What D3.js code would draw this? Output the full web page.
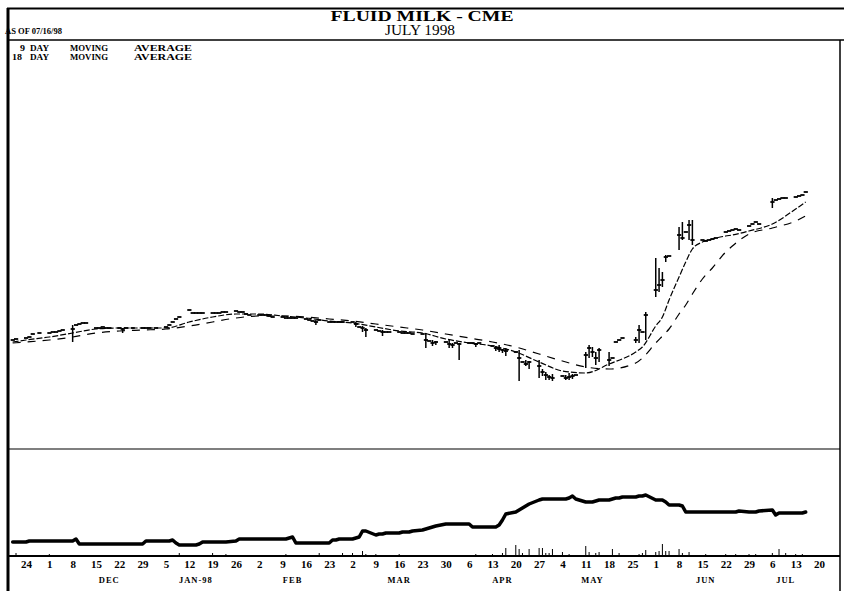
<!DOCTYPE html>
<html>
<head>
<meta charset="utf-8">
<script src="https://cdn.jsdelivr.net/npm/d3@7"></script>
<style>
  body { margin: 0; background: #fff; }
  svg { display: block; }
</style>
</head>
<body>
<svg id="canvas" width="844" height="591"></svg>
<script>
// trading weeks (Monday) - each row of the daily arrays is Mon..Fri, null = no trade
const weekStarts = [
  "1997-11-17", "1997-11-24", "1997-12-01", "1997-12-08", "1997-12-15", "1997-12-22", "1997-12-29",
  "1998-01-05", "1998-01-12", "1998-01-19", "1998-01-26", "1998-02-02", "1998-02-09", "1998-02-16",
  "1998-02-23", "1998-03-02", "1998-03-09", "1998-03-16", "1998-03-23", "1998-03-30", "1998-04-06",
  "1998-04-13", "1998-04-20", "1998-04-27", "1998-05-04", "1998-05-11", "1998-05-18", "1998-05-25",
  "1998-06-01", "1998-06-08", "1998-06-15", "1998-06-22", "1998-06-29", "1998-07-06", "1998-07-13",
];

// daily settle, $/cwt
const closes = [
  [null, null, null, 10.18, 10.20],
  [10.22, 10.24, 10.30, null, 10.32],
  [10.32, 10.34, 10.34, 10.36, 10.38],
  [10.40, 10.48, 10.50, 10.52, 10.52],
  [10.42, 10.42, 10.44, 10.42, 10.42],
  [10.42, 10.40, 10.42, null, 10.42],
  [10.42, 10.42, 10.42, null, 10.42],
  [10.44, 10.48, 10.54, 10.60, 10.64],
  [10.78, 10.72, 10.72, 10.72, 10.72],
  [10.72, 10.72, 10.72, 10.74, 10.74],
  [10.76, 10.74, 10.74, 10.70, 10.68],
  [10.68, 10.68, 10.68, 10.66, 10.64],
  [10.64, 10.62, 10.62, 10.62, 10.62],
  [10.60, 10.58, 10.56, 10.54, 10.58],
  [10.54, 10.54, 10.54, 10.54, 10.54],
  [10.54, 10.50, 10.44, 10.42, 10.38],
  [10.38, 10.36, 10.34, 10.34, 10.34],
  [10.34, 10.32, 10.32, 10.32, 10.30],
  [10.30, 10.18, 10.16, 10.12, 10.14],
  [10.14, 10.10, 10.08, 10.12, 10.10],
  [10.12, 10.12, 10.10, 10.12, null],
  [10.06, 10.02, 10.00, 9.98, 9.96],
  [9.94, 9.82, 9.74, 9.70, 9.74],
  [9.66, 9.54, 9.48, 9.44, 9.42],
  [9.46, 9.42, 9.44, 9.46, 9.48],
  [9.88, 10.02, 9.94, 9.82, 9.98],
  [9.78, 9.82, 10.14, 10.18, 10.22],
  [null, 10.18, 10.38, 10.34, 10.68],
  [11.18, 11.28, 11.38, 11.84, 11.86],
  [12.28, 12.22, 12.34, 12.48, 12.18],
  [12.18, 12.16, 12.18, 12.20, 12.22],
  [12.34, 12.36, 12.38, 12.40, 12.38],
  [12.46, 12.50, 12.54, 12.50, null],
  [12.94, 12.98, 13.00, 13.02, 13.02],
  [13.04, 13.06, 13.08, 13.14, null],
];

// days that traded a range: [date, high, low]
const ranges = [
  ["1997-12-08", 10.48, 10.14], ["1997-12-23", 10.42, 10.32], ["1998-02-19", 10.58, 10.48],
  ["1998-03-03", 10.54, 10.44], ["1998-03-05", 10.46, 10.34], ["1998-03-06", 10.42, 10.24],
  ["1998-03-11", 10.38, 10.26], ["1998-03-24", 10.32, 10.02], ["1998-03-26", 10.18, 10.06],
  ["1998-03-27", 10.16, 10.08], ["1998-03-31", 10.18, 10.02], ["1998-04-01", 10.12, 10.02],
  ["1998-04-03", 10.12, 9.78], ["1998-04-08", 10.12, 10.04], ["1998-04-14", 10.06, 9.96],
  ["1998-04-15", 10.08, 9.94], ["1998-04-16", 10.00, 9.92], ["1998-04-17", 10.02, 9.86],
  ["1998-04-21", 9.98, 9.36], ["1998-04-23", 9.78, 9.66], ["1998-04-24", 9.76, 9.60],
  ["1998-04-27", 9.78, 9.42], ["1998-04-28", 9.60, 9.46], ["1998-04-29", 9.54, 9.38],
  ["1998-04-30", 9.48, 9.38], ["1998-05-01", 9.50, 9.36], ["1998-05-05", 9.48, 9.38],
  ["1998-05-06", 9.52, 9.38], ["1998-05-07", 9.50, 9.40],
  ["1998-05-11", 9.94, 9.62], ["1998-05-12", 10.08, 9.82], ["1998-05-13", 10.04, 9.84],
  ["1998-05-14", 9.94, 9.68], ["1998-05-15", 10.02, 9.74], ["1998-05-18", 9.94, 9.66],
  ["1998-05-26", 10.24, 10.12], ["1998-05-27", 10.48, 10.12], ["1998-05-29", 10.74, 10.18],
  ["1998-06-01", 11.82, 11.04], ["1998-06-02", 11.62, 11.14], ["1998-06-03", 11.54, 11.24],
  ["1998-06-04", 11.88, 11.74], ["1998-06-08", 12.44, 11.98], ["1998-06-09", 12.54, 12.18],
  ["1998-06-11", 12.58, 12.18], ["1998-06-12", 12.58, 12.08], ["1998-07-06", 13.02, 12.82],
];

// moving averages
const maDates = [
  "1997-11-20", "1997-11-24", "1997-12-01", "1997-12-08", "1997-12-15", "1997-12-22", "1997-12-29",
  "1998-01-05", "1998-01-12", "1998-01-19", "1998-01-26", "1998-02-02", "1998-02-09", "1998-02-16",
  "1998-02-23", "1998-03-02", "1998-03-09", "1998-03-16", "1998-03-23", "1998-03-30", "1998-04-06",
  "1998-04-13", "1998-04-20", "1998-04-27", "1998-05-04", "1998-05-11", "1998-05-18", "1998-05-26",
  "1998-05-28", "1998-06-01", "1998-06-03", "1998-06-05", "1998-06-08", "1998-06-10", "1998-06-12",
  "1998-06-15", "1998-06-18", "1998-06-22", "1998-06-24", "1998-06-29", "1998-07-06", "1998-07-13",
  "1998-07-16",
];
const ma9 = [
  10.14, 10.18, 10.24, 10.32, 10.40, 10.42, 10.42, 10.42, 10.54, 10.64, 10.70, 10.70, 10.66, 10.62,
  10.56, 10.52, 10.44, 10.36, 10.32, 10.20, 10.12, 10.06, 9.94, 9.74, 9.56, 9.52, 9.70, 9.94,
  10.04, 10.46, 10.64, 10.98, 11.44, 11.74, 12.00, 12.14, 12.20, 12.26, 12.28, 12.36, 12.50, 12.80,
  12.94,
];
const ma18 = [
  10.12, 10.14, 10.18, 10.24, 10.32, 10.36, 10.38, 10.40, 10.46, 10.54, 10.62, 10.66, 10.66, 10.64,
  10.60, 10.56, 10.50, 10.44, 10.38, 10.30, 10.22, 10.14, 10.04, 9.90, 9.76, 9.64, 9.60, 9.72,
  9.82, 10.12, 10.26, 10.40, 10.70, 10.88, 11.10, 11.40, 11.62, 11.94, 12.06, 12.30, 12.42, 12.56,
  12.66,
];

// open interest, contracts
const openInterest = [
  [null, null, null, 140, 140],
  [140, 150, 150, null, 150],
  [150, 150, 150, 150, 150],
  [150, 170, 120, 120, 120],
  [120, 120, 120, 120, 120],
  [120, 120, 120, null, 120],
  [120, 150, 150, null, 150],
  [150, 150, 160, 130, 110],
  [110, 110, 110, 120, 140],
  [140, 140, 140, 140, 140],
  [150, 170, 170, 170, 170],
  [170, 170, 170, 170, 170],
  [170, 170, 180, 190, 130],
  [130, 130, 130, 130, 130],
  [130, 160, 160, 170, 170],
  [170, 180, 190, 250, 250],
  [210, 220, 220, 230, 230],
  [230, 240, 240, 240, 250],
  [260, 270, 280, 290, 300],
  [320, 320, 320, 320, 320],
  [320, 290, 290, 290, null],
  [290, 290, 310, 360, 420],
  [440, 460, 480, 500, 520],
  [560, 570, 570, 570, 570],
  [570, 570, 580, 600, 570],
  [540, 540, 540, 550, 560],
  [560, 570, 580, 580, 590],
  [null, 590, 600, 600, 610],
  [560, 560, 560, 540, 510],
  [510, 500, 440, 440, 440],
  [440, 440, 440, 440, 440],
  [440, 440, 440, 440, 450],
  [440, 440, 440, 450, null],
  [460, 410, 430, 430, 430],
  [430, 430, 430, 440, null],
];

// volume, contracts
const volume = [
  [null, null, null, 10, 30],
  [10, 10, 10, null, 10],
  [20, 10, 10, 10, 10],
  [10, 10, 10, 10, 10],
  [10, 10, 10, 10, 10],
  [10, 10, 0, null, 0],
  [0, 10, 0, null, 10],
  [10, 10, 10, 10, 30],
  [10, 10, 10, 10, 10],
  [30, 10, 10, 10, 20],
  [10, 10, 10, 10, 10],
  [10, 10, 10, 10, 10],
  [10, 20, 10, 10, 10],
  [10, 10, 10, 10, 30],
  [10, 10, 10, 10, 30],
  [30, 10, 10, 50, 20],
  [20, 10, 10, 10, 10],
  [20, 10, 10, 10, 10],
  [10, 10, 10, 10, 10],
  [10, 10, 10, 10, 10],
  [10, 10, 20, 10, null],
  [20, 10, 10, 30, 80],
  [110, 70, 30, 10, 70],
  [80, 80, 30, 30, 70],
  [40, 10, 20, 10, 10],
  [100, 40, 10, 30, 40],
  [10, 70, 10, 30, 10],
  [null, 10, 20, 30, 60],
  [40, 50, 120, 50, 50],
  [70, 30, 10, 40, 10],
  [10, 20, 10, 10, 10],
  [20, 10, 10, 20, 10],
  [20, 10, 20, 10, null],
  [30, 10, 70, 10, 30],
  [20, 10, 20, 10, null],
];

const monthLabels = ["DEC", "JAN-98", "FEB", "MAR", "APR", "MAY", "JUN", "JUL"];
const monthLabelDates = [
  "1997-12-19", "1998-01-14", "1998-02-12", "1998-03-16",
  "1998-04-16", "1998-05-13", "1998-06-16", "1998-07-10",
];

const parseDate = d3.timeParse("%Y-%m-%d");
const fmt = d3.timeFormat("%Y-%m-%d");

const rangeByDate = new Map(ranges.map((r) => [r[0], r]));

const days = [];
weekStarts.forEach((w, i) => {
  const monday = parseDate(w);
  closes[i].forEach((c, j) => {
    if (c === null) return;
    const date = d3.timeDay.offset(monday, j);
    const r = rangeByDate.get(fmt(date));
    days.push({
      date: date,
      close: c,
      high: r ? Math.max(r[1], c) : c,
      low: r ? Math.min(r[2], c) : c,
      oi: openInterest[i][j],
      vol: volume[i][j],
    });
  });
});

const maRows = maDates.map((d, i) => ({ date: parseDate(d), ma9: ma9[i], ma18: ma18[i] }));

const canvas = d3.select("#canvas");
const serif = "'Liberation Serif', 'DejaVu Serif', serif";

const x = d3
  .scaleTime()
  .domain([parseDate("1997-11-24"), parseDate("1998-07-20")])
  .range([26, 819]);
const yPrice = d3.scaleLinear().domain([8.0, 16.18]).range([449, 40]);
const yLow = d3.scaleLinear().domain([0, 1070]).range([556, 449]);

// frame
const frame = canvas.append("g").attr("stroke", "#000").attr("fill", "none");
frame.append("line").attr("x1", 7).attr("x2", 844).attr("y1", 8.5).attr("y2", 8.5).attr("stroke-width", 2);
frame.append("line").attr("x1", 8).attr("x2", 8).attr("y1", 8).attr("y2", 591).attr("stroke-width", 3);
frame.append("line").attr("x1", 8).attr("x2", 844).attr("y1", 40).attr("y2", 40).attr("stroke-width", 1.5);
frame.append("line").attr("x1", 840).attr("x2", 840).attr("y1", 40).attr("y2", 591).attr("stroke-width", 1.5);
frame.append("line").attr("x1", 8).attr("x2", 840).attr("y1", 449).attr("y2", 449).attr("stroke-width", 1.2);
frame.append("line").attr("x1", 8).attr("x2", 840).attr("y1", 556).attr("y2", 556).attr("stroke-width", 2);

// header text
canvas
  .append("text")
  .attr("x", 422)
  .attr("y", 21)
  .attr("text-anchor", "middle")
  .attr("font-family", serif)
  .attr("font-weight", "bold")
  .attr("font-size", 15)
  .attr("textLength", 183)
  .attr("lengthAdjust", "spacingAndGlyphs")
  .text("FLUID MILK - CME");

canvas
  .append("text")
  .attr("x", 420)
  .attr("y", 35)
  .attr("text-anchor", "middle")
  .attr("font-family", serif)
  .attr("font-size", 14)
  .attr("textLength", 70)
  .attr("lengthAdjust", "spacingAndGlyphs")
  .text("JULY 1998");

canvas
  .append("text")
  .attr("x", 5)
  .attr("y", 34)
  .attr("font-family", serif)
  .attr("font-weight", "bold")
  .attr("font-size", 7.5)
  .attr("textLength", 57)
  .attr("lengthAdjust", "spacingAndGlyphs")
  .text("AS OF 07/16/98");

// legend
const legendRows = [
  { y: 51, words: [["9", 20], ["DAY", 30], ["MOVING", 70], ["AVERAGE", 134]] },
  { y: 60, words: [["18", 12], ["DAY", 30], ["MOVING", 70], ["AVERAGE", 134]] },
];
const legendWidth = { "9": 5, "18": 10, DAY: 19, MOVING: 38, AVERAGE: 58 };
legendRows.forEach((row) => {
  row.words.forEach(([w, wx]) => {
    canvas
      .append("text")
      .attr("x", wx)
      .attr("y", row.y)
      .attr("font-family", serif)
      .attr("font-weight", "bold")
      .attr("font-size", 8)
      .attr("textLength", legendWidth[w])
      .attr("lengthAdjust", "spacingAndGlyphs")
      .text(w);
  });
});

// moving averages
const ma9Line = d3.line().x((d) => x(d.date)).y((d) => yPrice(d.ma9)).curve(d3.curveMonotoneX);
const ma18Line = d3.line().x((d) => x(d.date)).y((d) => yPrice(d.ma18)).curve(d3.curveMonotoneX);

canvas
  .append("path")
  .datum(maRows)
  .attr("d", ma18Line)
  .attr("fill", "none")
  .attr("stroke", "#000")
  .attr("stroke-width", 1.2)
  .attr("stroke-dasharray", "8,7");

canvas
  .append("path")
  .datum(maRows)
  .attr("d", ma9Line)
  .attr("fill", "none")
  .attr("stroke", "#000")
  .attr("stroke-width", 1.2)
  .attr("stroke-dasharray", "6,2");

// price bars
const bars = canvas.append("g").attr("stroke", "#000");
bars
  .selectAll("line.range")
  .data(days.filter((d) => d.high > d.low))
  .enter()
  .append("line")
  .attr("class", "range")
  .attr("x1", (d) => x(d.date))
  .attr("x2", (d) => x(d.date))
  .attr("y1", (d) => yPrice(d.high))
  .attr("y2", (d) => yPrice(d.low))
  .attr("stroke-width", 1.5);
bars
  .selectAll("line.tick")
  .data(days)
  .enter()
  .append("line")
  .attr("class", "tick")
  .attr("x1", (d) => x(d.date) - 2)
  .attr("x2", (d) => x(d.date) + 2.2)
  .attr("y1", (d) => yPrice(d.close))
  .attr("y2", (d) => yPrice(d.close))
  .attr("stroke-width", 1.8);

// lower panel: volume spikes and open interest
canvas
  .append("g")
  .attr("stroke", "#000")
  .selectAll("line")
  .data(days.filter((d) => d.vol > 0))
  .enter()
  .append("line")
  .attr("x1", (d) => x(d.date))
  .attr("x2", (d) => x(d.date))
  .attr("y1", yLow(0))
  .attr("y2", (d) => yLow(d.vol))
  .attr("stroke-width", 1);

const oiLine = d3.line().x((d) => x(d.date)).y((d) => yLow(d.oi));
canvas
  .append("path")
  .datum(days)
  .attr("d", oiLine)
  .attr("fill", "none")
  .attr("stroke", "#000")
  .attr("stroke-width", 3.5)
  .attr("stroke-linejoin", "round")
  .attr("stroke-linecap", "round");

// date axis
const tickDates = d3.timeMonday.range(parseDate("1997-11-24"), parseDate("1998-07-21"));
const axis = canvas
  .append("g")
  .attr("transform", "translate(0,556)")
  .call(d3.axisBottom(x).tickValues(tickDates).tickFormat(d3.timeFormat("%-d")).tickSize(0).tickPadding(4));
axis.select(".domain").remove();
axis
  .selectAll("text")
  .attr("font-family", serif)
  .attr("font-weight", "bold")
  .attr("font-size", 11)
  .attr("fill", "#000");

canvas
  .append("g")
  .selectAll("text")
  .data(monthLabels)
  .enter()
  .append("text")
  .attr("x", (d, i) => x(parseDate(monthLabelDates[i])))
  .attr("y", 583)
  .attr("text-anchor", "middle")
  .attr("font-family", serif)
  .attr("font-weight", "bold")
  .attr("font-size", 8.5)
  .attr("letter-spacing", 1)
  .text((d) => d);
</script>
</body>
</html>
